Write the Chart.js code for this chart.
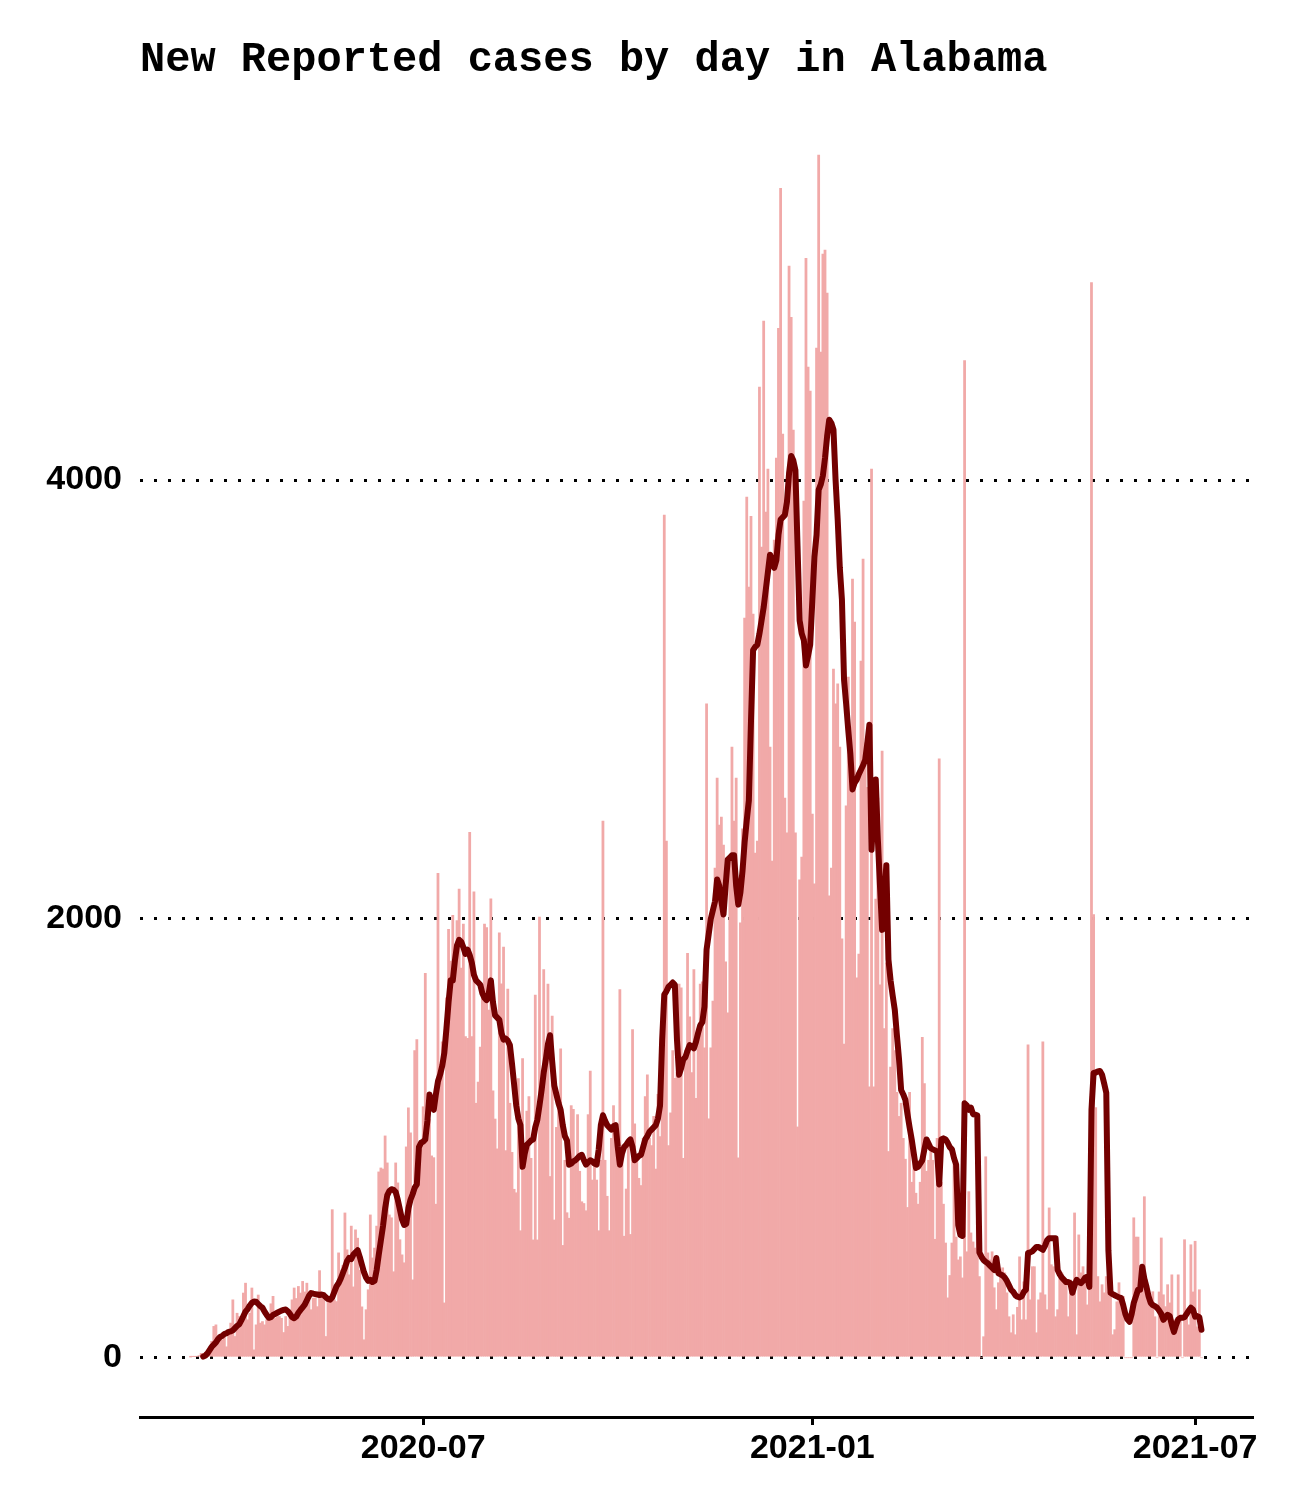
<!DOCTYPE html>
<html><head><meta charset="utf-8">
<script src="https://cdn.jsdelivr.net/npm/chart.js@4.4.1/dist/chart.umd.min.js"></script>
<style>html,body{margin:0;padding:0;background:#fff}#wrap{width:1296px;height:1512px;position:relative}</style>
</head><body><div id="wrap"><canvas id="c"></canvas></div>
<script>
const titleText = 'New Reported cases by day in Alabama';
const startDate = '2020-03-13';
const dailyCases = [
/*0*/ 3,5,5,6,10,20,20,25,30,50,
/*10*/ 75,143,150,75,97,82,100,50,120,158,
/*20*/ 264,97,203,188,158,295,340,173,203,318,
/*30*/ 36,150,286,158,165,150,173,200,246,280,
/*40*/ 180,188,188,180,115,188,143,188,264,318,
/*50*/ 270,325,295,348,300,340,264,219,272,272,
/*60*/ 233,397,280,264,97,256,272,675,264,256,
/*70*/ 478,400,420,660,492,378,600,323,583,545,
/*80*/ 400,232,82,219,310,651,455,500,600,847,
/*90*/ 865,860,1011,888,651,638,392,888,797,538,
/*100*/ 469,433,961,1139,1025,355,1400,1450,920,948,
/*110*/ 1144,1752,1000,1088,920,912,700,2208,1336,1440,
/*120*/ 250,1640,1952,1808,2016,1800,1992,2136,1776,1976,
/*130*/ 1464,1456,2395,1464,2123,1160,1256,1416,1672,1976,
/*140*/ 1960,1584,2091,1216,1088,952,1936,1704,1872,944,
/*150*/ 1680,1160,936,768,752,1272,579,1364,900,1124,
/*160*/ 1190,909,537,1653,537,2008,1200,1769,1400,1703,
/*170*/ 826,1557,628,1050,1150,1408,512,900,661,636,
/*180*/ 1149,1132,900,1108,850,711,703,670,1108,1306,
/*190*/ 810,900,810,579,900,2446,900,736,579,1000,
/*200*/ 1149,1000,893,1678,900,554,769,1000,562,1496,
/*210*/ 1066,900,818,785,1000,1190,1289,1000,967,1100,
/*220*/ 860,1200,1008,1300,3840,2355,967,1116,1400,1273,
/*230*/ 1300,1703,1686,909,1400,1843,1554,1300,1769,1182,
/*240*/ 1500,1703,1713,1412,2980,1089,1412,1626,2232,2642,
/*250*/ 2428,2464,2337,1804,1572,2282,2783,2446,2642,911,
/*260*/ 1982,2410,3371,3922,3512,3835,3389,2300,2355,4424,
/*270*/ 3695,4724,3854,4050,2783,2264,3727,4100,4692,5330,
/*280*/ 4210,2551,2392,4975,4742,4228,2392,1052,2178,2282,
/*290*/ 3904,5011,4515,4405,2478,2160,4601,5481,4583,5030,
/*300*/ 5048,4852,2105,2232,3139,2980,3071,2783,1909,1430,
/*310*/ 2515,3102,2874,3549,3353,1731,1840,3175,3640,2802,
/*320*/ 2600,1235,4050,1235,2090,2551,1700,2765,1500,1800,
/*330*/ 940,1325,1500,1400,1210,1100,1160,1000,905,685,
/*340*/ 1210,800,900,750,700,800,1460,1250,850,900,
/*350*/ 950,900,540,1000,2730,800,700,523,273,375,
/*360*/ 523,880,550,446,460,364,4545,483,757,569,
/*370*/ 528,500,620,370,0,96,916,478,446,483,
/*380*/ 319,219,342,401,410,387,296,187,114,196,
/*390*/ 105,230,460,173,346,173,1426,264,415,415,
/*400*/ 114,264,296,1440,287,219,683,424,415,187,
/*410*/ 219,370,387,355,355,187,355,342,660,105,
/*420*/ 560,387,415,355,241,310,4900,2020,1140,370,
/*430*/ 255,333,296,370,300,333,105,128,255,342,
/*440*/ 264,280,0,0,0,0,638,550,550,324,
/*450*/ 324,734,355,300,250,301,187,0,300,546,
/*460*/ 287,233,333,250,378,173,114,378,173,0,
/*470*/ 538,187,150,515,300,531,141,310,0
];
const rollingAvg = [
/*0*/ null,null,null,null,null,null,5,10,20,35,
/*10*/ 50,60,70,85,95,100,108,112,118,120,
/*20*/ 125,135,145,152,170,190,210,222,238,250,
/*30*/ 256,255,245,235,228,210,195,182,185,195,
/*40*/ 200,205,210,215,218,220,212,200,185,180,
/*50*/ 188,205,218,230,242,262,282,295,292,290,
/*60*/ 288,286,288,285,275,268,265,275,300,325,
/*70*/ 340,360,385,410,440,455,450,470,480,490,
/*80*/ 460,425,390,365,350,355,345,350,400,470,
/*90*/ 535,600,680,740,760,768,765,755,720,675,
/*100*/ 630,605,610,680,720,745,775,790,960,980,
/*110*/ 985,995,1080,1200,1150,1130,1200,1260,1290,1330,
/*120*/ 1390,1500,1620,1720,1720,1810,1880,1905,1895,1870,
/*130*/ 1840,1860,1835,1800,1745,1720,1710,1700,1660,1640,
/*140*/ 1630,1660,1720,1620,1560,1550,1540,1480,1450,1455,
/*150*/ 1445,1425,1340,1245,1150,1090,1060,870,930,970,
/*160*/ 980,990,995,1050,1085,1150,1220,1300,1360,1430,
/*170*/ 1470,1350,1240,1200,1160,1130,1060,1010,990,880,
/*180*/ 885,895,900,910,920,925,900,880,890,900,
/*190*/ 895,885,880,950,1060,1105,1080,1060,1050,1040,
/*200*/ 1055,1060,960,880,930,960,970,985,995,960,
/*210*/ 900,910,920,925,960,995,1010,1030,1040,1050,
/*220*/ 1060,1090,1150,1450,1655,1670,1690,1700,1710,1700,
/*230*/ 1450,1290,1320,1360,1370,1400,1425,1420,1410,1440,
/*240*/ 1480,1515,1530,1600,1860,1930,2000,2040,2080,2180,
/*250*/ 2150,2080,2020,2150,2270,2280,2290,2290,2150,2065,
/*260*/ 2120,2220,2350,2450,2540,2900,3225,3240,3250,3300,
/*270*/ 3360,3420,3500,3580,3660,3640,3600,3635,3750,3820,
/*280*/ 3830,3840,3900,4030,4110,4090,4045,3700,3360,3300,
/*290*/ 3270,3155,3200,3250,3450,3650,3750,3955,3980,4020,
/*300*/ 4100,4200,4275,4260,4230,4000,3820,3600,3455,3090,
/*310*/ 2980,2860,2750,2590,2620,2635,2660,2680,2700,2725,
/*320*/ 2800,2885,2315,2500,2635,2360,2150,1950,2100,2245,
/*330*/ 1815,1720,1650,1585,1470,1360,1220,1200,1175,1110,
/*340*/ 1050,995,930,865,870,885,900,950,995,975,
/*350*/ 955,950,945,940,790,995,1000,995,980,960,
/*360*/ 950,910,880,605,560,555,1160,1150,1130,1140,
/*370*/ 1110,1108,1105,480,460,445,437,430,420,410,
/*380*/ 400,455,385,380,375,365,350,330,310,300,
/*390*/ 285,278,275,280,300,310,478,480,485,495,
/*400*/ 505,505,498,492,510,535,545,545,545,545,
/*410*/ 400,380,365,355,345,345,340,296,330,355,
/*420*/ 345,340,350,365,370,323,1130,1298,1300,1305,
/*430*/ 1307,1290,1250,1207,490,296,290,285,280,275,
/*440*/ 273,240,200,175,164,200,250,280,310,310,
/*450*/ 415,360,323,280,250,240,235,228,215,200,
/*460*/ 173,185,196,190,150,118,150,175,182,182,
/*470*/ 185,200,215,228,220,187,190,185,128
];
const tickDates = ['2020-07-01', '2021-01-01', '2021-07-01'];
const tickLabels = ['2020-07', '2021-01', '2021-07'];
const yTicks = [0, 2000, 4000];

const DAY = 86400000;
const t0 = Date.parse(startDate + 'T00:00:00Z');
const dayIndex = s => Math.round((Date.parse(s + 'T00:00:00Z') - t0) / DAY);
const tickDays = tickDates.map(dayIndex);
const nDays = dailyCases.length;
const pad = (nDays - 1) * 0.05;

const labelFont = {family: 'Liberation Sans', weight: 'bold', size: 34};

new Chart(document.getElementById('c'), {
  type: 'bar',
  data: {
    datasets: [
      {
        type: 'line', label: '7-day average',
        data: rollingAvg.map((v, i) => ({x: i, y: v})),
        borderColor: '#730000', borderWidth: 6, pointRadius: 0, tension: 0,
        borderJoinStyle: 'round', borderCapStyle: 'round', fill: false, order: 0
      },
      {
        type: 'bar', label: 'New cases',
        data: dailyCases.map((v, i) => ({x: i, y: v})),
        backgroundColor: '#f1a9a8', borderWidth: 0,
        categoryPercentage: 1, barPercentage: 1, order: 1
      }
    ]
  },
  options: {
    responsive: true, maintainAspectRatio: false, animation: false,
    layout: {padding: {left: 0, right: 44, top: 0, bottom: 0}},
    plugins: {
      legend: {display: false},
      tooltip: {enabled: false},
      title: {
        display: true, text: titleText, align: 'start', fullSize: false, color: '#000',
        font: {family: 'Liberation Mono', weight: 'bold', size: 42},
        padding: {top: 35, bottom: 32.6}
      }
    },
    scales: {
      x: {
        type: 'linear', min: -pad, max: nDays - 1 + pad, offset: false,
        afterBuildTicks: s => { s.ticks = tickDays.map(v => ({value: v})); },
        afterFit: s => { s.height = 95; },
        grid: {display: true, offset: false, drawOnChartArea: false, drawTicks: true,
               tickLength: 8, tickWidth: 3, tickColor: '#000', color: '#000', lineWidth: 3},
        border: {display: true, color: '#000', width: 3},
        ticks: {autoSkip: false, maxRotation: 0, padding: 3, color: '#000', font: labelFont,
                callback: v => { const k = tickDays.indexOf(v); return k >= 0 ? tickLabels[k] : ''; }}
      },
      y: {
        type: 'linear', min: -270, max: 5650, z: 1,
        afterBuildTicks: s => { s.ticks = yTicks.map(v => ({value: v})); },
        afterFit: s => { s.width = 140; },
        grid: {display: true, drawTicks: false, color: '#000', lineWidth: 3},
        border: {display: false, dash: [3, 11]},
        ticks: {padding: 18, color: '#000', font: labelFont, callback: v => String(v)}
      }
    }
  }
});
</script>
</body></html>
